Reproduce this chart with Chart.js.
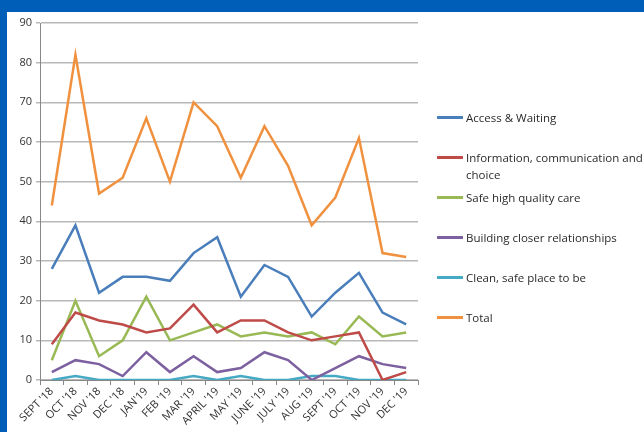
<!DOCTYPE html>
<html>
<head>
<meta charset="utf-8">
<script src="https://cdn.jsdelivr.net/npm/chart.js@4/dist/chart.umd.min.js"></script>
<style>
body { margin: 0; background: #005eb8; width: 644px; height: 432px; overflow: hidden; position: relative; }
.panel { position: absolute; left: 7px; top: 12px; width: 637px; height: 420px; background: #fff; }
#chartBox { position: absolute; left: 0; top: 0; width: 637px; height: 420px; }
.legend { position: absolute; left: 430px; top: 0; font-family: "Open Sans", sans-serif; font-size: 11.5px; color: #2a2a2a; }
.legend-item { position: absolute; left: 0; width: 214px; line-height: 17px; }
.legend-item .swatch { position: absolute; left: 0; top: 7px; width: 26px; height: 3px; }
.legend-item .text { position: absolute; left: 29px; top: 0; width: 185px; }
</style>
</head>
<body>
<div class="panel">
    <div id="chartBox"><canvas id="trendGraph"></canvas></div>
    <div class="legend" id="legend"></div>
</div>
<script>
let months = ["SEPT '18", "OCT '18", "NOV '18", "DEC '18", "JAN'19", "FEB '19", "MAR '19", "APRIL '19",
    "MAY '19", "JUNE '19", "JULY '19", "AUG '19", "SEPT '19", "OCT '19", "NOV '19", "DEC '19"];

let seriesNames = ["Access & Waiting", "Information, communication and choice", "Safe high quality care",
    "Building closer relationships", "Clean, safe place to be", "Total"];

let accessWaiting = [28, 39, 22, 26, 26, 25, 32, 36, 21, 29, 26, 16, 22, 27, 17, 14];
let infoChoice = [9, 17, 15, 14, 12, 13, 19, 12, 15, 15, 12, 10, 11, 12, 0, 2];
let safeCare = [5, 20, 6, 10, 21, 10, 12, 14, 11, 12, 11, 12, 9, 16, 11, 12];
let closerRelationships = [2, 5, 4, 1, 7, 2, 6, 2, 3, 7, 5, 0, 3, 6, 4, 3];
let cleanSafe = [0, 1, 0, 0, 0, 0, 1, 0, 1, 0, 0, 1, 1, 0, 0, 0];
let total = [44, 82, 47, 51, 66, 50, 70, 64, 51, 64, 54, 39, 46, 61, 32, 31];

let yTicks = [0, 10, 20, 30, 40, 50, 60, 70, 80, 90];

let seriesColors = ["#4a7ebb", "#be4b48", "#98b954", "#7d60a0", "#46aac5", "#f0913f"];
let allSeries = [accessWaiting, infoChoice, safeCare, closerRelationships, cleanSafe, total];

// legend on the right, one row per series
let legendTops = [97, 137, 177, 217, 257, 297];
let legendBox = document.getElementById("legend");
seriesNames.forEach(function(name, i){
    let item = document.createElement("div");
    item.className = "legend-item";
    item.style.top = legendTops[i] + "px";
    item.innerHTML = '<div class="swatch" style="background:' + seriesColors[i] + '"></div><div class="text"></div>';
    item.querySelector(".text").textContent = name;
    legendBox.appendChild(item);
});

let trendChart = document.getElementById("trendGraph");

new Chart(trendChart, {
    type: "line",
    data: {
        labels: months,
        datasets: allSeries.map(function(values, i){
            return {
                label: seriesNames[i],
                data: values,
                borderColor: seriesColors[i],
                backgroundColor: seriesColors[i],
                borderWidth: 2.5,
                pointRadius: 0,
                tension: 0
            };
        })
    },
    options: {
        responsive: true,
        maintainAspectRatio: false,
        animation: false,
        layout: {
            padding: { top: 11, right: 226, bottom: 0, left: 0 }
        },
        plugins: {
            legend: { display: false },
            tooltip: { enabled: false }
        },
        scales: {
            x: {
                offset: true,
                afterFit: function(scale){ scale.height = 52; },
                grid: { display: true, drawOnChartArea: false, offset: true, tickLength: 5, color: "#888" },
                border: { color: "#888" },
                ticks: {
                    minRotation: 45,
                    maxRotation: 45,
                    autoSkip: false,
                    padding: 0,
                    color: "#333",
                    font: { family: "Open Sans", size: 11 }
                }
            },
            y: {
                min: 0,
                max: 90,
                afterFit: function(scale){ scale.width = 33; },
                afterBuildTicks: function(scale){
                    scale.ticks = yTicks.map(function(v){ return { value: v }; });
                },
                grid: { color: "#b8b8b8", tickLength: 4, lineWidth: 1.5 },
                border: { color: "#888" },
                ticks: {
                    padding: 4,
                    color: "#333",
                    font: { family: "Open Sans", size: 11 }
                }
            }
        }
    }
});
</script>
</body>
</html>
